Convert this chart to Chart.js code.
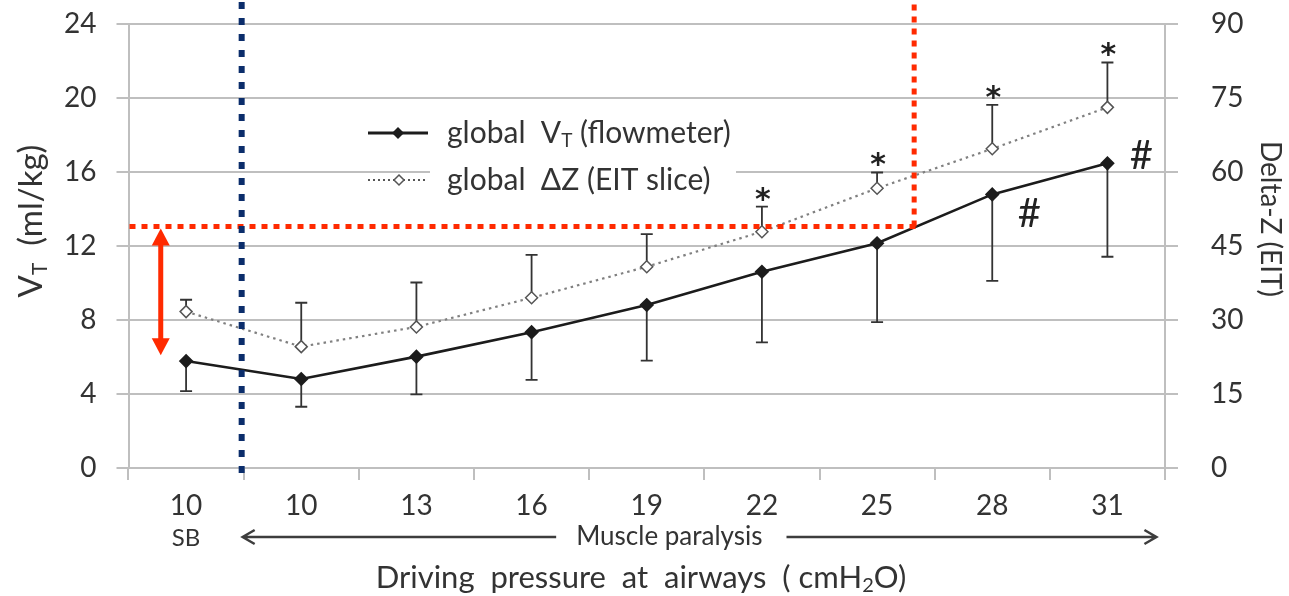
<!DOCTYPE html>
<html><head><meta charset="utf-8">
<script src="https://cdn.jsdelivr.net/npm/chart.js@4/dist/chart.umd.min.js"></script>
<style>html,body{margin:0;padding:0;background:#fff;} canvas{display:block}</style>
</head><body>
<div style="width:1289px;height:596px"><canvas id="c" width="1289" height="596"></canvas></div>
<script>
// ---- data ----
const categories = ['10','10','13','16','19','22','25','28','31'];
const vtMean  = [5.78, 4.81, 6.02, 7.34, 8.81, 10.61, 12.15, 14.79, 16.47];
const vtLower = [4.16, 3.31, 3.98, 4.76, 5.80, 6.79, 7.88, 10.12, 11.42];
const dzMean  = [31.7, 24.6, 28.6, 34.5, 40.8, 47.9, 56.7, 64.7, 73.1];
const dzUpper = [34.1, 33.5, 37.6, 43.2, 47.4, 53.0, 59.9, 73.6, 82.2];
const dzStar  = [false,false,false,false,false,true,true,true,true];
const vtHash  = [false,false,false,false,false,false,false,true,true];
const leftTicks  = [0,4,8,12,16,20,24];
const rightTicks = [0,15,30,45,60,75,90];
const thresholdVT = 13;      // red dotted level (ml/kg)
const arrowBottomVT = 6.1;   // lower end of red double arrow
const sbLabel = 'SB';
const phaseLabel = 'Muscle paralysis';

const FONT = 'Lato, "Open Sans", sans-serif';
const TXT = '#333333';
const GRID = '#bfbfbf';

function drawRich(ctx, parts, x, y, align) {
  let total = 0;
  parts.forEach(p => { ctx.font = p.size + 'px ' + FONT; p.w = ctx.measureText(p.t).width; total += p.w; });
  let cx = align === 'center' ? x - total / 2 : x;
  parts.forEach(p => { ctx.font = p.size + 'px ' + FONT; ctx.fillText(p.t, cx, y + (p.dy || 0)); cx += p.w; });
  return total;
}

const overlay = {
  id: 'overlay',
  beforeDatasetsDraw(chart) {
    const ctx = chart.ctx, xs = chart.scales.x, y = chart.scales.y, y1 = chart.scales.y1;
    ctx.save();
    // legend background
    ctx.fillStyle = '#fff';
    ctx.fillRect(430, 108, 306, 92);
    // error bars
    ctx.strokeStyle = '#333'; ctx.lineWidth = 1.8;
    const cap = 6;
    categories.forEach((c, i) => {
      const px = xs.getPixelForValue(i);
      const a = y.getPixelForValue(vtMean[i]), b = y.getPixelForValue(vtLower[i]);
      ctx.beginPath(); ctx.moveTo(px, a); ctx.lineTo(px, b);
      ctx.moveTo(px - cap, b); ctx.lineTo(px + cap, b); ctx.stroke();
      const d = y1.getPixelForValue(dzMean[i]), u = y1.getPixelForValue(dzUpper[i]);
      ctx.beginPath(); ctx.moveTo(px, d); ctx.lineTo(px, u);
      ctx.moveTo(px - cap, u); ctx.lineTo(px + cap, u); ctx.stroke();
    });
    ctx.restore();
  },
  afterDatasetsDraw(chart) {
    const ctx = chart.ctx, xs = chart.scales.x, y = chart.scales.y, y1 = chart.scales.y1;
    const area = chart.chartArea;
    ctx.save();
    // red threshold lines
    let k = 0;
    for (let i = 0; i < vtMean.length - 1; i++) {
      if (vtMean[i] <= thresholdVT && vtMean[i + 1] > thresholdVT) { k = i; break; }
    }
    const t = (thresholdVT - vtMean[k]) / (vtMean[k + 1] - vtMean[k]);
    const rx = xs.getPixelForValue(k) + t * (xs.getPixelForValue(k + 1) - xs.getPixelForValue(k));
    const ry = y.getPixelForValue(thresholdVT) - 1;
    ctx.strokeStyle = '#ff2a00'; ctx.lineWidth = 5; ctx.setLineDash([6, 6]);
    ctx.beginPath(); ctx.moveTo(area.left + 1, ry); ctx.lineTo(rx + 3, ry); ctx.stroke();
    ctx.beginPath(); ctx.moveTo(rx, ry); ctx.lineTo(rx, 0); ctx.stroke();
    // blue separator
    const bx = (xs.getPixelForValue(0) + xs.getPixelForValue(1)) / 2 - 2;
    ctx.strokeStyle = '#0b2d6b'; ctx.lineWidth = 6; ctx.setLineDash([7, 9]);
    ctx.beginPath(); ctx.moveTo(bx, 2); ctx.lineTo(bx, area.bottom + 12); ctx.stroke();
    ctx.setLineDash([]);
    // red double arrow
    const ax = xs.getPixelForValue(0) - 0.22 * (xs.getPixelForValue(1) - xs.getPixelForValue(0));
    const aTop = y.getPixelForValue(thresholdVT) + 1, aBot = y.getPixelForValue(arrowBottomVT);
    ctx.fillStyle = '#ff2a00'; ctx.strokeStyle = '#ff2a00'; ctx.lineWidth = 5;
    ctx.beginPath(); ctx.moveTo(ax, aTop + 14); ctx.lineTo(ax, aBot - 14); ctx.stroke();
    ctx.beginPath(); ctx.moveTo(ax, aTop); ctx.lineTo(ax - 9, aTop + 17); ctx.lineTo(ax + 9, aTop + 17); ctx.closePath(); ctx.fill();
    ctx.beginPath(); ctx.moveTo(ax, aBot); ctx.lineTo(ax - 9, aBot - 17); ctx.lineTo(ax + 9, aBot - 17); ctx.closePath(); ctx.fill();
    // significance marks
    ctx.fillStyle = '#222'; ctx.textAlign = 'center'; ctx.textBaseline = 'alphabetic';
    categories.forEach((c, i) => {
      const px = xs.getPixelForValue(i);
      if (dzStar[i]) {
        ctx.font = 'bold 30px "DejaVu Sans"';
        ctx.fillText('*', px + 1, y1.getPixelForValue(dzUpper[i]) - 16 + 18);
      }
      if (vtHash[i]) {
        ctx.font = '40px ' + FONT;
        const py = y.getPixelForValue(vtMean[i]);
        const off = i === vtMean.length - 1 ? [34, -8] : [37, 19];
        ctx.fillText('#', px + off[0], py + off[1] + 14);
      }
    });
    // legend
    ctx.textAlign = 'left'; ctx.textBaseline = 'middle';
    ctx.strokeStyle = '#1c1c1c'; ctx.lineWidth = 3;
    ctx.beginPath(); ctx.moveTo(368, 133); ctx.lineTo(428, 133); ctx.stroke();
    ctx.fillStyle = '#1c1c1c';
    ctx.beginPath(); ctx.moveTo(398, 127); ctx.lineTo(404, 133); ctx.lineTo(398, 139); ctx.lineTo(392, 133); ctx.closePath(); ctx.fill();
    ctx.strokeStyle = '#555'; ctx.lineWidth = 2; ctx.setLineDash([2, 3]);
    ctx.beginPath(); ctx.moveTo(368, 180); ctx.lineTo(428, 180); ctx.stroke();
    ctx.setLineDash([]);
    ctx.fillStyle = '#fff'; ctx.lineWidth = 1.5;
    ctx.beginPath(); ctx.moveTo(399, 175); ctx.lineTo(404, 180); ctx.lineTo(399, 185); ctx.lineTo(394, 180); ctx.closePath(); ctx.fill(); ctx.stroke();
    ctx.fillStyle = TXT;
    drawRich(ctx, [{t:'global  V', size:30}, {t:'T', size:19, dy:8}, {t:' (flowmeter)', size:30}], 447, 133, 'left');
    drawRich(ctx, [{t:'global  \u0394Z (EIT slice)', size:30}], 447, 180, 'left');
    // x sub labels
    ctx.textAlign = 'left';
    ctx.font = '24px ' + FONT;
    const sbw = ctx.measureText(sbLabel).width;
    ctx.fillText(sbLabel, xs.getPixelForValue(0) - sbw / 2, 538);
    ctx.font = '26px ' + FONT;
    const mw = ctx.measureText(phaseLabel).width;
    const mcx = (xs.getPixelForValue(4) + xs.getPixelForValue(5)) / 2 - 35;
    ctx.fillText(phaseLabel, mcx - mw / 2, 537);
    const lTip = bx + 1, rTip = xs.getPixelForValue(categories.length - 1) + 49;
    ctx.strokeStyle = '#3d3d3d'; ctx.lineWidth = 2.5;
    ctx.beginPath();
    ctx.moveTo(lTip, 537); ctx.lineTo(mcx - mw / 2 - 20, 537);
    ctx.moveTo(mcx + mw / 2 + 24, 537); ctx.lineTo(rTip, 537);
    ctx.moveTo(lTip + 12, 530); ctx.lineTo(lTip, 537); ctx.lineTo(lTip + 12, 544);
    ctx.moveTo(rTip - 12, 530); ctx.lineTo(rTip, 537); ctx.lineTo(rTip - 12, 544);
    ctx.stroke();
    // x title
    drawRich(ctx, [{t:'Driving  pressure  at  airways  ( cmH', size:31}, {t:'2', size:20, dy:8}, {t:'O)', size:31}], 641, 578, 'center');
    // left title
    ctx.save(); ctx.translate(31, 221); ctx.rotate(-Math.PI / 2);
    drawRich(ctx, [{t:'V', size:33}, {t:'T', size:21, dy:9}, {t:'  (ml/kg)', size:33}], 0, 0, 'center');
    ctx.restore();
    // right title
    ctx.save(); ctx.translate(1270, 219); ctx.rotate(Math.PI / 2);
    drawRich(ctx, [{t:'Delta-Z (EIT)', size:28}], 0, 0, 'center');
    ctx.restore();
    ctx.restore();
  }
};

new Chart(document.getElementById('c'), {
  type: 'line',
  data: {
    labels: categories,
    datasets: [
      { label: 'global VT (flowmeter)', data: vtMean, yAxisID: 'y', borderColor: '#1c1c1c', borderWidth: 2.6,
        pointStyle: 'rectRot', pointRadius: 5.5, pointBackgroundColor: '#1c1c1c', pointBorderColor: '#1c1c1c', tension: 0 },
      { label: 'global \u0394Z (EIT slice)', data: dzMean, yAxisID: 'y1', borderColor: '#808080', borderWidth: 2.2,
        borderDash: [2.5, 4], pointStyle: 'rectRot', pointRadius: 6, pointBackgroundColor: '#fff',
        pointBorderColor: '#555', pointBorderWidth: 1.5, tension: 0 }
    ]
  },
  options: {
    responsive: false, animation: false, devicePixelRatio: 1,
    layout: { padding: { top: 24, left: 0, right: 0, bottom: 0 } },
    plugins: { legend: { display: false }, tooltip: { enabled: false } },
    scales: {
      x: {
        type: 'category', offset: true,
        grid: { offset: true, drawOnChartArea: false, drawTicks: true, tickLength: 12, color: GRID, lineWidth: 2 },
        border: { display: true, color: GRID, width: 2 },
        ticks: { font: { family: FONT, size: 28 }, color: TXT, padding: 9, maxRotation: 0, autoSkip: false },
        afterFit(s) { s.height = 128; s.paddingLeft = 0; s.paddingRight = 0; }
      },
      y: {
        position: 'left', min: 0, max: 24,
        afterBuildTicks(s) { s.ticks = leftTicks.map(v => ({ value: v })); },
        ticks: { font: { family: FONT, size: 28 }, color: TXT, padding: 20 },
        grid: { color: GRID, lineWidth: 2, tickLength: 12 },
        border: { color: GRID, width: 2 },
        afterFit(s) { s.width = 128.5; s.paddingTop = 0; s.paddingBottom = 0; }
      },
      y1: {
        position: 'right', min: 0, max: 90,
        afterBuildTicks(s) { s.ticks = rightTicks.map(v => ({ value: v })); },
        ticks: { font: { family: FONT, size: 28 }, color: TXT, padding: 33 },
        grid: { drawOnChartArea: false, color: GRID, lineWidth: 2, tickLength: 13 },
        border: { color: GRID, width: 2 },
        afterFit(s) { s.width = 124; s.paddingTop = 0; s.paddingBottom = 0; }
      }
    }
  },
  plugins: [overlay]
});
</script>
</body></html>
